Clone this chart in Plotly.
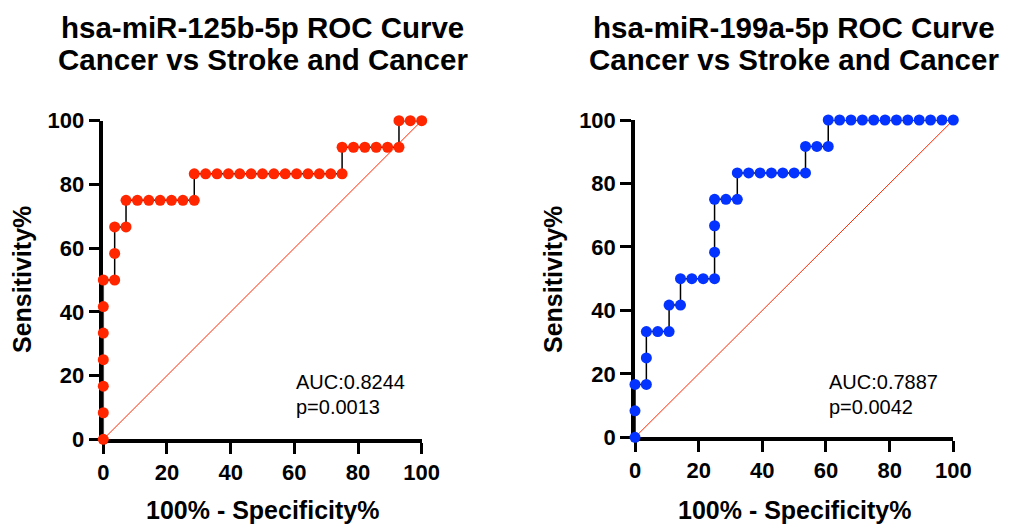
import plotly.graph_objects as go

W, H = 1010, 524

# ---- data (percent) ----
left_title = ["hsa-miR-125b-5p ROC Curve", "Cancer vs Stroke and Cancer"]
right_title = ["hsa-miR-199a-5p ROC Curve", "Cancer vs Stroke and Cancer"]

left_fpr = [0, 0, 0, 0, 0, 0, 0,
            3.57, 3.57, 3.57,
            7.14, 7.14,
            10.71, 14.29, 17.86, 21.43, 25, 28.57,
            28.57,
            32.14, 35.71, 39.29, 42.86, 46.43, 50, 53.57, 57.14, 60.71, 64.29, 67.86, 71.43, 75,
            75, 78.57, 82.14, 85.71, 89.29, 92.86,
            92.86, 96.43, 100]
left_sens = [0, 8.33, 16.67, 25, 33.33, 41.67, 50,
             50, 58.33, 66.67,
             66.67, 75,
             75, 75, 75, 75, 75, 75,
             83.33,
             83.33, 83.33, 83.33, 83.33, 83.33, 83.33, 83.33, 83.33, 83.33, 83.33, 83.33, 83.33, 83.33,
             91.67, 91.67, 91.67, 91.67, 91.67, 91.67,
             100, 100, 100]

right_fpr = [0, 0, 0,
             3.57, 3.57, 3.57,
             7.14, 10.71,
             10.71,
             14.29, 14.29,
             17.86, 21.43, 25,
             25, 25, 25,
             28.57, 32.14,
             32.14,
             35.71, 39.29, 42.86, 46.43, 50, 53.57,
             53.57, 57.14, 60.71,
             60.71, 64.29, 67.86, 71.43, 75, 78.57, 82.14, 85.71, 89.29, 92.86, 96.43, 100]
right_sens = [0, 8.33, 16.67,
              16.67, 25, 33.33,
              33.33, 33.33,
              41.67,
              41.67, 50,
              50, 50, 50,
              58.33, 66.67, 75,
              75, 75,
              83.33,
              83.33, 83.33, 83.33, 83.33, 83.33, 83.33,
              91.67, 91.67, 91.67,
              100, 100, 100, 100, 100, 100, 100, 100, 100, 100, 100, 100]

diag = [0, 100]
tick_vals = [0, 20, 40, 60, 80, 100]
tick_text = ["0", "20", "40", "60", "80", "100"]
left_stats = ["AUC:0.8244", "p=0.0013"]
right_stats = ["AUC:0.7887", "p=0.0042"]
x_label = "100% - Specificity%"
y_label = "Sensitivity%"

RED = "#FF2600"
BLUE = "#0433FF"
FONT = "Liberation Sans, Arial, Helvetica, sans-serif"

fig = go.Figure()

def add_panel(xa, ya, fpr, sens, color):
    fig.add_trace(go.Scatter(x=diag, y=diag, mode="lines", xaxis=xa, yaxis=ya,
                             line=dict(color=RED, width=1), cliponaxis=False,
                             showlegend=False, hoverinfo="skip"))
    fig.add_trace(go.Scatter(x=fpr, y=sens, mode="lines+markers", xaxis=xa, yaxis=ya,
                             line=dict(color="black", width=1.5),
                             marker=dict(color=color, size=11, line=dict(width=0)),
                             cliponaxis=False, showlegend=False))

add_panel("x", "y", left_fpr, left_sens, RED)
add_panel("x2", "y2", right_fpr, right_sens, BLUE)

axis_common = dict(range=[0, 100], tickvals=tick_vals, ticktext=tick_text,
                   showgrid=False, zeroline=False, showline=True, linecolor="black",
                   linewidth=3.5, ticks="outside", ticklen=11, tickwidth=3, tickcolor="black",
                   tickfont=dict(family=FONT, size=22, color="black", weight="bold"),
                   layer="below traces", fixedrange=True, automargin=False)

L_x = [103.3, 421.7]
R_x = [635.0, 953.3]
L_y = [439.3, 120.7]
R_y = [437.3, 120.0]

def xd(p):
    return [p[0] / W, p[1] / W]

def yd(p):
    return [(H - p[0]) / H, (H - p[1]) / H]

fig.update_layout(
    template="none",
    width=W, height=H,
    margin=dict(l=0, r=0, t=0, b=0, pad=0),
    paper_bgcolor="white", plot_bgcolor="white",
    xaxis=dict(domain=xd(L_x), anchor="y", **axis_common),
    yaxis=dict(domain=yd(L_y), anchor="x", **axis_common),
    xaxis2=dict(domain=xd(R_x), anchor="y2", **axis_common),
    yaxis2=dict(domain=yd(R_y), anchor="x2", **axis_common),
)

ann = []
def txt(text, x, y, size, bold=True, xanchor="center", textangle=0):
    ann.append(dict(text=text, x=x / W, y=(H - y) / H, xref="paper", yref="paper",
                    xanchor=xanchor, yanchor="middle", showarrow=False, textangle=textangle,
                    font=dict(family=FONT, size=size, color="black",
                              weight="bold" if bold else "normal")))

# titles
txt(left_title[0], 262.5, 27, 29.5)
txt(left_title[1], 262.5, 59, 29.5)
txt(right_title[0], 794, 27, 29.5)
txt(right_title[1], 794, 59, 29.5)
# axis titles
txt(x_label, 262.5, 510, 25)
txt(x_label, 794, 510, 25)
txt(y_label, 22, 280, 25, textangle=-90)
txt(y_label, 553, 280, 25, textangle=-90)
# stats
txt(left_stats[0], 294, 381.5, 20, bold=False, xanchor="left")
txt(left_stats[1], 294, 406.5, 20, bold=False, xanchor="left")
txt(right_stats[0], 827, 381.5, 20, bold=False, xanchor="left")
txt(right_stats[1], 827, 406.5, 20, bold=False, xanchor="left")

fig.update_layout(annotations=ann)
fig.write_html("out.html")
